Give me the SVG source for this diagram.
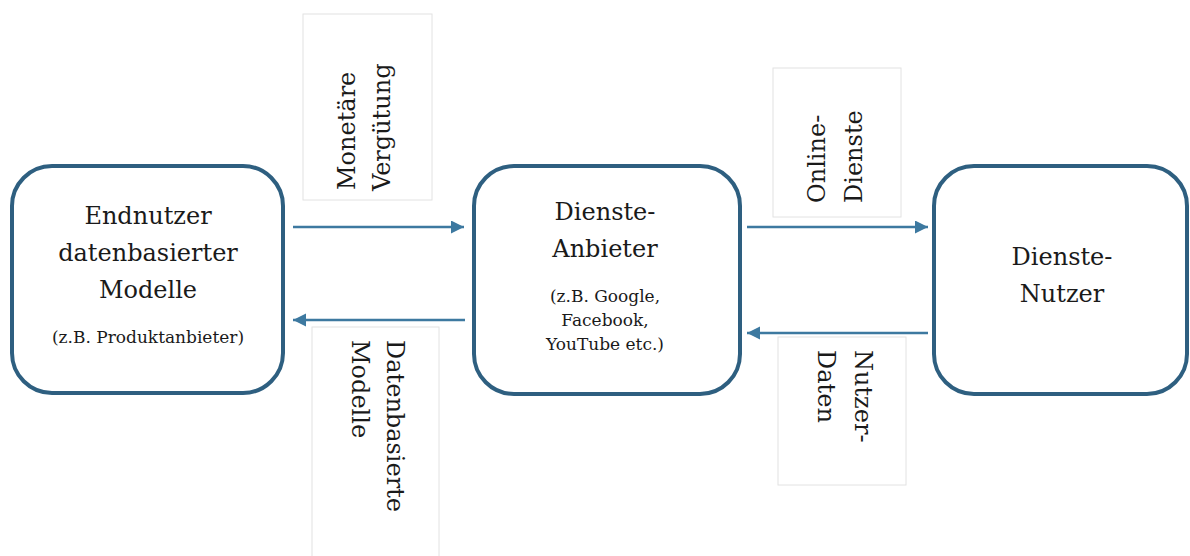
<svg xmlns="http://www.w3.org/2000/svg" width="1190" height="556" viewBox="0 0 1190 556">
<defs>
<marker id="ah" markerWidth="14" markerHeight="14" refX="13" refY="6.5" orient="auto" markerUnits="userSpaceOnUse">
<path d="M0,0 L13,6.5 L0,13 Z" fill="#3d79a0"/>
</marker>
</defs>
<style>
.node rect{fill:#fff;stroke:#2e5f80;stroke-width:4}
.lab{fill:#fff;stroke:#e2e2e2;stroke-width:1}
.t{font-family:"DejaVu Serif","Liberation Serif",serif;fill:#1a1a1a;text-anchor:middle}
.big{font-size:24px}
.small{font-size:17px}
.rt{font-family:"DejaVu Serif","Liberation Serif",serif;fill:#1a1a1a;font-size:24px}
.conn line{stroke:#3d79a0;stroke-width:2.5;marker-end:url(#ah)}
</style>
<rect width="1190" height="556" fill="#fff"/>
<g id="label-monetaer">
<rect class="lab" x="303" y="14" width="129" height="186"/>
<text class="rt" transform="translate(355,190) rotate(-90)">Monetäre</text>
<text class="rt" transform="translate(390,191) rotate(-90)">Vergütung</text>
</g>
<g id="label-modelle">
<rect class="lab" x="312" y="327" width="127" height="240"/>
<text class="rt" transform="translate(387,340) rotate(90)">Datenbasierte</text>
<text class="rt" transform="translate(352,340) rotate(90)">Modelle</text>
</g>
<g id="label-online">
<rect class="lab" x="773" y="68" width="128" height="149"/>
<text class="rt" transform="translate(825,203) rotate(-90)">Online-</text>
<text class="rt" transform="translate(862,203) rotate(-90)">Dienste</text>
</g>
<g id="label-nutzerdaten">
<rect class="lab" x="778" y="337" width="128" height="148"/>
<text class="rt" transform="translate(855,350) rotate(90)">Nutzer-</text>
<text class="rt" transform="translate(818,350) rotate(90)">Daten</text>
</g>
<g id="node-endnutzer" class="node">
<rect x="12" y="166" width="271" height="227" rx="40"/>
<text class="t big" x="148" y="224">Endnutzer</text>
<text class="t big" x="148" y="261">datenbasierter</text>
<text class="t big" x="148" y="298">Modelle</text>
<text class="t small" x="148" y="343">(z.B. Produktanbieter)</text>
</g>
<g id="node-anbieter" class="node">
<rect x="474" y="166" width="266" height="228" rx="40"/>
<text class="t big" x="605" y="220">Dienste-</text>
<text class="t big" x="605" y="257">Anbieter</text>
<text class="t small" x="605" y="302">(z.B. Google,</text>
<text class="t small" x="605" y="326">Facebook,</text>
<text class="t small" x="605" y="350">YouTube etc.)</text>
</g>
<g id="node-nutzer" class="node">
<rect x="934" y="166" width="253" height="228" rx="40"/>
<text class="t big" x="1062" y="265">Dienste-</text>
<text class="t big" x="1062" y="302">Nutzer</text>
</g>
<g id="connectors" class="conn">
<line x1="293" y1="227" x2="464" y2="227"/>
<line x1="465" y1="320" x2="293" y2="320"/>
<line x1="747" y1="227" x2="928" y2="227"/>
<line x1="928" y1="333" x2="747" y2="333"/>
</g>
</svg>
